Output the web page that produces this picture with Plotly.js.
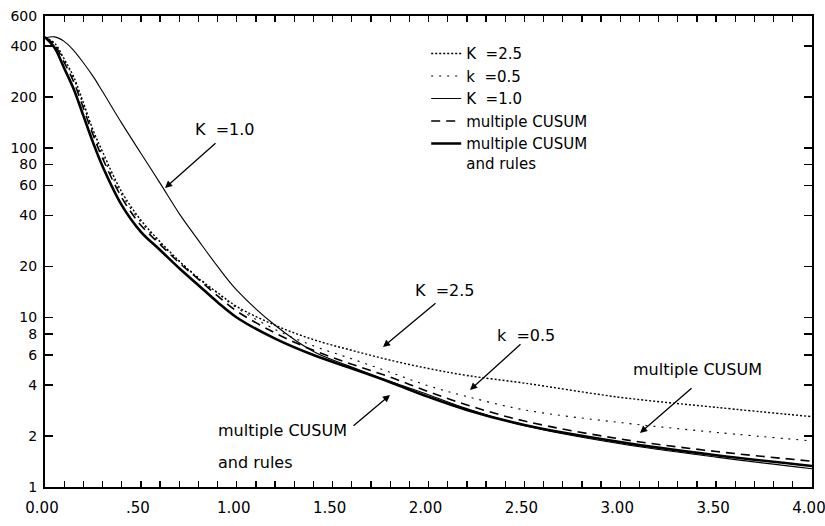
<!DOCTYPE html>
<html>
<head>
<meta charset="utf-8">
<script src="https://cdn.plot.ly/plotly-3.0.1.min.js"></script>
<style>html,body{margin:0;padding:0;background:#fff;}#chart{width:825px;height:526px;}</style>
</head>
<body>
<div id="chart"></div>
<script>
// shift values
const shift = [0, 0.05, 0.1, 0.15, 0.2, 0.25, 0.3, 0.4, 0.5, 0.6, 0.7, 0.8, 0.9, 1.0, 1.2, 1.4, 1.6, 1.8, 2.0, 2.2, 2.5, 3.0, 3.5, 4.0];
// ARL series
const arlK25 = [450, 415, 335, 262, 185, 128, 95, 55, 37.5, 28, 21.5, 17.0, 14.0, 11.6, 9.0, 7.4, 6.4, 5.6, 5.0, 4.55, 4.1, 3.38, 2.95, 2.6];
const arlk05 = [450, 410, 330, 255, 178, 124, 90, 53, 36.5, 27.5, 21.5, 17.2, 13.9, 11.4, 8.5, 6.8, 5.7, 4.75, 3.95, 3.42, 2.85, 2.4, 2.1, 1.87];
const arlK10 = [445, 452, 425, 375, 318, 265, 215, 140, 93, 62, 41, 28.5, 20, 14.5, 9.0, 6.3, 5.1, 4.2, 3.5, 2.9, 2.3, 1.8, 1.5, 1.28];
const arlMC = [450, 405, 320, 245, 172, 120, 87, 51, 35, 27, 21, 16.8, 13.4, 10.9, 8.1, 6.4, 5.3, 4.45, 3.65, 3.05, 2.45, 1.92, 1.62, 1.42];
const arlMCR = [450, 390, 295, 222, 155, 108, 78, 46, 32, 25, 19.5, 15.5, 12.3, 10.0, 7.5, 6.0, 5.0, 4.15, 3.4, 2.85, 2.32, 1.84, 1.54, 1.33];
const seriesNames = ["K\u00a0\u00a0=2.5", "k\u00a0\u00a0=0.5", "K\u00a0\u00a0=1.0", "multiple CUSUM", "multiple CUSUM<br>and rules"];
// tick labels
const yTickVals = [1, 2, 4, 6, 8, 10, 20, 40, 60, 80, 100, 200, 400, 600];
const yTickText = ["1", "2", "4", "6", "8", "10", "20", "40", "60", "80", "100", "200", "400", "600"];
const xTickVals = [0, 0.1, 0.2, 0.3, 0.4, 0.5, 0.6, 0.7, 0.8, 0.9, 1.0, 1.1, 1.2, 1.3, 1.4, 1.5, 1.6, 1.7, 1.8, 1.9, 2.0, 2.1, 2.2, 2.3, 2.4, 2.5, 2.6, 2.7, 2.8, 2.9, 3.0, 3.1, 3.2, 3.3, 3.4, 3.5, 3.6, 3.7, 3.8, 3.9, 4.0];
const xTickText = ["0.00", "", "", "", "", ".50", "", "", "", "", "1.00", "", "", "", "", "1.50", "", "", "", "", "2.00", "", "", "", "", "2.50", "", "", "", "", "3.00", "", "", "", "", "3.50", "", "", "", "", "4.00"];

const FONT = "DejaVu Sans, Liberation Sans, sans-serif";
const seriesY = [arlK25, arlk05, arlK10, arlMC, arlMCR];
const styles = [
  {width: 1.4, dash: "2px,2px"},
  {width: 1.1, dash: "2px,6px"},
  {width: 1.1, dash: "solid"},
  {width: 1.6, dash: "9px,6px"},
  {width: 2.6, dash: "solid"}
];
const traces = seriesY.map((ys, i) => ({
  x: shift, y: ys, name: seriesNames[i], type: "scatter", mode: "lines",
  line: {color: "#000", width: styles[i].width, dash: styles[i].dash, shape: "spline", smoothing: 1}
}));

function px2paper(px, py) { return [(px - 45) / 767, (487 - py) / 471]; }
const ann = [];
function arrow(tx, ty, hx, hy) {
  const p = px2paper(hx, hy);
  ann.push({xref: "paper", yref: "paper", x: p[0], y: p[1], text: "", showarrow: true,
    axref: "pixel", ayref: "pixel", ax: tx - hx, ay: ty - hy,
    arrowhead: 2, arrowsize: 1.1, arrowwidth: 1.3, arrowcolor: "#000", standoff: 0});
}
function label(txt, cx, cy, anchor) {
  const p = px2paper(cx, cy);
  ann.push({xref: "paper", yref: "paper", x: p[0], y: p[1], text: txt, showarrow: false,
    xanchor: anchor || "center", yanchor: "middle", font: {family: FONT, size: 16, color: "#000"}});
}
arrow(217, 142, 165, 188);
arrow(437, 302, 383, 347);
arrow(522, 343, 470, 390);
arrow(693, 387, 640, 433);
arrow(352, 427, 390, 395);
label("K\u00a0\u00a0=1.0", 225, 130);
label("K\u00a0\u00a0=2.5", 445, 290);
label("k\u00a0\u00a0=0.5", 526, 335);
label("multiple CUSUM", 697, 369);
label("multiple CUSUM", 216, 430, "left");
label("and rules", 216, 462, "left");

const layout = {
  width: 825, height: 526,
  margin: {l: 45, r: 13, t: 16, b: 39, pad: 0},
  paper_bgcolor: "#fff", plot_bgcolor: "#fff",
  font: {family: FONT, size: 16, color: "#000"},
  showlegend: true,
  legend: {x: 0.497, y: 0.955, xanchor: "left", yanchor: "top", bgcolor: "rgba(0,0,0,0)",
    borderwidth: 0, font: {family: FONT, size: 15, color: "#000"}, valign: "top",
    itemwidth: 30, tracegroupgap: 0},
  xaxis: {range: [0, 4], showgrid: false, zeroline: false, showline: true, linewidth: 2, linecolor: "#000",
    mirror: "ticks", ticks: "inside", ticklen: 6, tickwidth: 1.3, tickcolor: "#000",
    tickmode: "array", tickvals: xTickVals, ticktext: xTickText, ticklabeloverflow: "allow",
    ticklabelshift: -3, ticklabelstandoff: 6,
    tickfont: {family: FONT, size: 15, color: "#000"}},
  yaxis: {type: "log", range: [0, Math.log10(600)], showgrid: false, zeroline: false, showline: true,
    linewidth: 2, linecolor: "#000", mirror: "ticks", ticks: "inside", ticklen: 8, tickwidth: 1.3,
    tickcolor: "#000", tickmode: "array", tickvals: yTickVals, ticktext: yTickText,
    ticklabelstandoff: 3,
    tickfont: {family: FONT, size: 14, color: "#000"}},
  annotations: ann
};
Plotly.newPlot("chart", traces, layout, {displayModeBar: false, staticPlot: true});
</script>
</body>
</html>
